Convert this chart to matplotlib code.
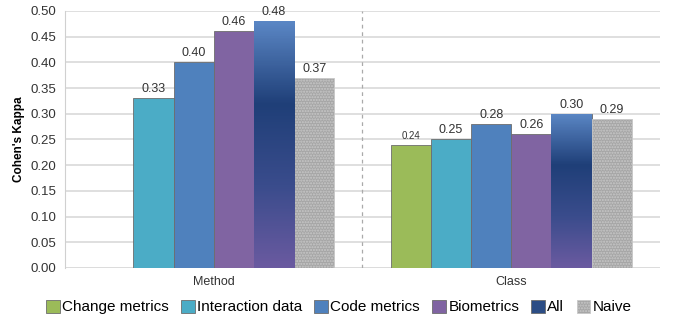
import numpy as np
import matplotlib.pyplot as plt
from matplotlib.colors import LinearSegmentedColormap

plt.rcParams["font.family"] = ["Liberation Sans", "DejaVu Sans"]

groups = ["Method", "Class"]
series = ["Change metrics", "Interaction data", "Code metrics", "Biometrics", "All", "Naive"]
values = {
    "Change metrics":   [np.nan, 0.24],
    "Interaction data": [0.33, 0.25],
    "Code metrics":     [0.40, 0.28],
    "Biometrics":       [0.46, 0.26],
    "All":              [0.48, 0.30],
    "Naive":            [0.37, 0.29],
}
colors = ["#9bbb59", "#4bacc6", "#4f81bd", "#8064a2", "#2c4d85", "#a6a6a6"]
yticks = np.arange(0, 0.501, 0.05)

fig = plt.figure(figsize=(6.73, 3.2), dpi=100)
ax = fig.add_axes([0.0966, 0.1625, 0.884, 0.8035])

width = 0.135
x = np.arange(len(groups))
grad = LinearSegmentedColormap.from_list("allgrad", ["#5a86c4", "#1f3f78", "#3a4c8c", "#6a5aa0"])

for i, (name, col) in enumerate(zip(series, colors)):
    off = (i - 2.5) * width
    vals = values[name]
    hatch = "......" if name == "Naive" else None
    edge = "#c8c8c8" if name == "Naive" else "#6d6d6d"
    bars = ax.bar(x + off, vals, width, color=col, edgecolor=edge,
                  linewidth=0.6, label=name, hatch=hatch, zorder=3)
    if name == "All":
        # shaded fill like the original
        for b in bars:
            bx, by = b.get_x(), b.get_y()
            bw, bh = b.get_width(), b.get_height()
            img = 1 - np.linspace(0, 1, 100).reshape(-1, 1) * np.ones((1, 20))
            im = ax.imshow(img, cmap=grad, extent=[bx, bx + bw, by, by + bh],
                           aspect="auto", origin="lower", zorder=3.5)
            im.set_clip_path(b)
    for xi, v in zip(x + off, vals):
        if np.isnan(v):
            continue
        fs = 7 if name == "Change metrics" else 9
        ax.text(xi, v + 0.006, f"{v:.2f}", ha="center", va="bottom", fontsize=fs, color="#333333")

ax.set_xlim(-0.5, 1.5)
ax.set_ylim(0, 0.5)
ax.set_yticks(yticks)
ax.set_yticklabels([f"{t:.2f}" for t in yticks], fontsize=9.5, color="#333333")
ax.set_xticks(x)
ax.set_xticklabels(groups, fontsize=9, color="#333333")
ax.tick_params(axis="both", length=0, pad=6)
ax.yaxis.grid(True, color="#d9d9d9", linewidth=1.2, zorder=0)
ax.set_axisbelow(True)
for s in ["top", "right", "bottom"]:
    ax.spines[s].set_visible(False)
ax.spines["left"].set_color("#d0d0d0")
ax.axhline(0, color="#d0d0d0", linewidth=1, zorder=2)
ax.axvline(0.5, color="#aaaaaa", linestyle=(0, (3, 3)), linewidth=0.9, zorder=2)
ax.set_ylabel("Cohen's Kappa", fontsize=8.5, fontweight="bold", labelpad=4)

ax.legend(loc="upper center", bbox_to_anchor=(0.46, -0.1), ncol=6, frameon=False,
          fontsize=11, handlelength=0.9, handleheight=0.9, handletextpad=0.15,
          columnspacing=0.8, borderaxespad=0)

fig.savefig("out.png", dpi=100)
